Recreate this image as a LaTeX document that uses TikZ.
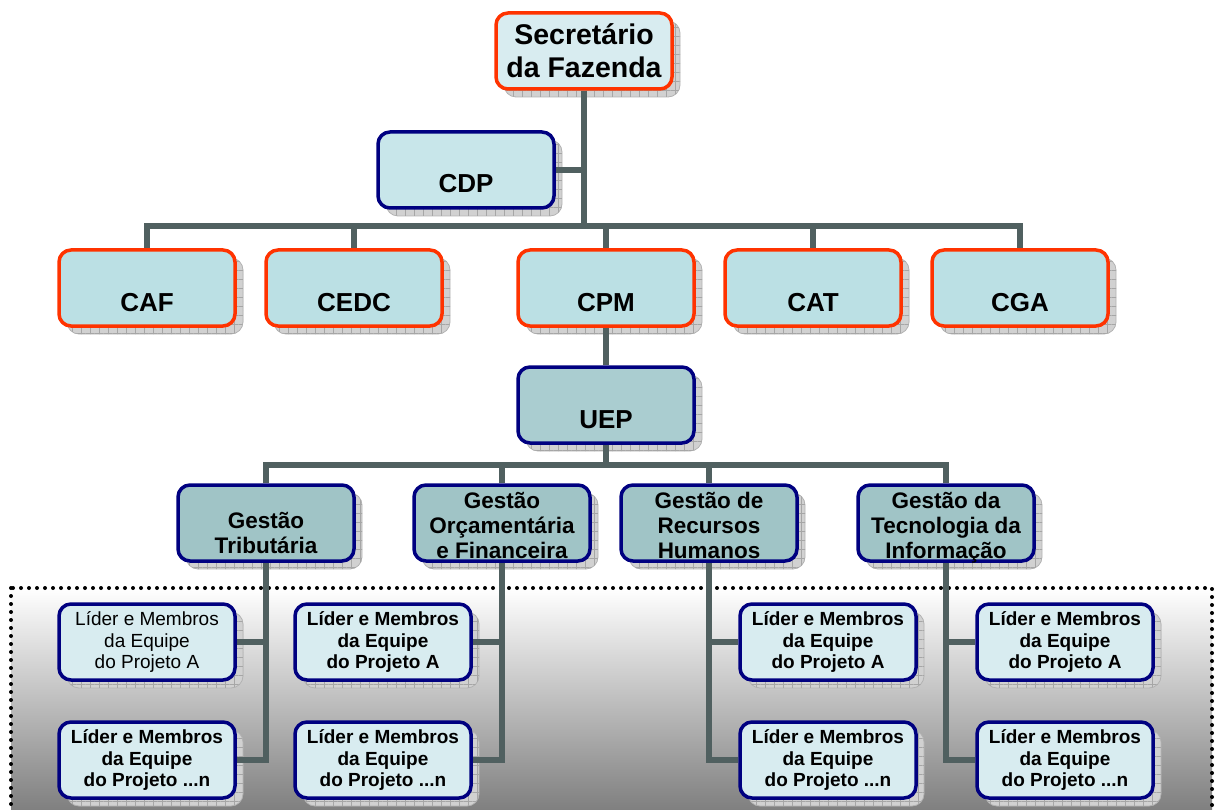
\documentclass[tikz,border=0pt]{standalone}
\usepackage{fontspec}
\setmainfont{Liberation Sans}
\usetikzlibrary{shadows,patterns.meta}

\definecolor{redline}{RGB}{255,51,0}
\definecolor{navyline}{RGB}{0,0,128}
\definecolor{linkgray}{RGB}{80,96,96}
\definecolor{paleblue}{RGB}{216,236,240}
\definecolor{cdpblue}{RGB}{200,230,234}
\definecolor{unitblue}{RGB}{187,224,228}
\definecolor{uepblue}{RGB}{170,205,208}
\definecolor{areablue}{RGB}{160,196,198}

\tikzset{
	orgbox/.style={rectangle, rounded corners=12pt, line width=3.5pt, minimum width=176pt, minimum height=76pt, inner sep=0pt, align=center,
		general shadow={fill=black!18, draw=black!30, line width=.8pt, shadow xshift=8pt, shadow yshift=-8pt},
		general shadow={pattern={Hatch[distance=9pt,line width=.5pt]}, pattern color=black!35, shadow xshift=8pt, shadow yshift=-8pt}},
	redbox/.style={orgbox, draw=redline},
	navybox/.style={orgbox, draw=navyline},
	oneline/.style={text height=46pt, text depth=0pt},
	bigtext/.style={font=\bfseries\fontsize{26}{30}\selectfont},
	areatext/.style={font=\bfseries\fontsize{22.5}{25}\selectfont},
	threelines/.style={text height=70pt, text depth=0pt},
	twolines/.style={text height=60pt, text depth=0pt},
	teamtext/.style={font=\bfseries\fontsize{19}{21.5}\selectfont},
	team/.style={navybox, fill=paleblue, teamtext},
	link/.style={draw=linkgray, line width=6pt},
	teamarea/.style={draw=black, line width=4pt, dash pattern=on 0pt off 8pt, line cap=round, top color=white, middle color=black!20, bottom color=black!55}
}

\begin{document}
\begin{tikzpicture}[x=1pt,y=-1pt]
	\useasboundingbox (0,0) rectangle (1215,810);

	\path[teamarea] (11,588) rectangle (1212,832);

	\node[redbox, fill=paleblue, font=\bfseries\fontsize{28.5}{33}\selectfont] (sec) at (584,51) {Secretário\\da Fazenda};
	\node[navybox, fill=cdpblue, oneline, bigtext] (cdp) at (466,170) {CDP};

	\node[redbox, fill=unitblue, oneline, bigtext] (caf) at (147,288) {CAF};
	\node[redbox, fill=unitblue, oneline, bigtext] (cedc) at (354,288) {CEDC};
	\node[redbox, fill=unitblue, oneline, bigtext] (cpm) at (606,288) {CPM};
	\node[redbox, fill=unitblue, oneline, bigtext] (cat) at (813,288) {CAT};
	\node[redbox, fill=unitblue, oneline, bigtext] (cga) at (1020,288) {CGA};

	\node[navybox, fill=uepblue, oneline, bigtext] (uep) at (606,405) {UEP};

	\node[navybox, fill=areablue, areatext, twolines] (trib) at (266,523) {Gestão\\Tributária};
	\node[navybox, fill=areablue, areatext, threelines] (orc) at (502,523) {Gestão\\Orçamentária\\e Financeira};
	\node[navybox, fill=areablue, areatext, threelines] (rh) at (709,523) {Gestão de\\Recursos\\Humanos};
	\node[navybox, fill=areablue, areatext, threelines] (tec) at (946,523) {Gestão da\\Tecnologia da\\Informação};

	\node[team, font=\fontsize{19}{21.5}\selectfont] (tribA) at (147,642) {Líder e Membros\\da Equipe\\do Projeto A};
	\node[team] (tribN) at (147,760) {Líder e Membros\\da Equipe\\do Projeto ...n};
	\node[team] (orcA) at (383,642) {Líder e Membros\\da Equipe\\do Projeto A};
	\node[team] (orcN) at (383,760) {Líder e Membros\\da Equipe\\do Projeto ...n};
	\node[team] (rhA) at (828,642) {Líder e Membros\\da Equipe\\do Projeto A};
	\node[team] (rhN) at (828,760) {Líder e Membros\\da Equipe\\do Projeto ...n};
	\node[team] (tecA) at (1065,642) {Líder e Membros\\da Equipe\\do Projeto A};
	\node[team] (tecN) at (1065,760) {Líder e Membros\\da Equipe\\do Projeto ...n};

	\coordinate (hub) at (584,226);
	\coordinate (uephub) at (606,465);

	\draw[link] (sec.south) -- (hub);
	\draw[link] (cdp.east) -- (cdp.east -| hub);
	\draw[link] (caf.north) |- (hub) -| (cga.north);
	\foreach \unit in {cedc,cpm,cat}
		\draw[link] (\unit.north) -- (\unit.north |- hub);

	\draw[link] (cpm) -- (uep);
	\draw[link] (uep) -- (uephub);
	\draw[link] (trib.north) |- (uephub) -| (tec.north);
	\foreach \area in {orc,rh}
		\draw[link] (\area.north) -- (\area.north |- uephub);

	\foreach \area in {trib,orc}{
		\draw[link] (\area.south) |- (\area N.east);
		\draw[link] (\area A.east) -- (\area A.east -| \area.south);
	}
	\foreach \area in {rh,tec}{
		\draw[link] (\area.south) |- (\area N.west);
		\draw[link] (\area A.west) -- (\area A.west -| \area.south);
	}
\end{tikzpicture}
\end{document}
